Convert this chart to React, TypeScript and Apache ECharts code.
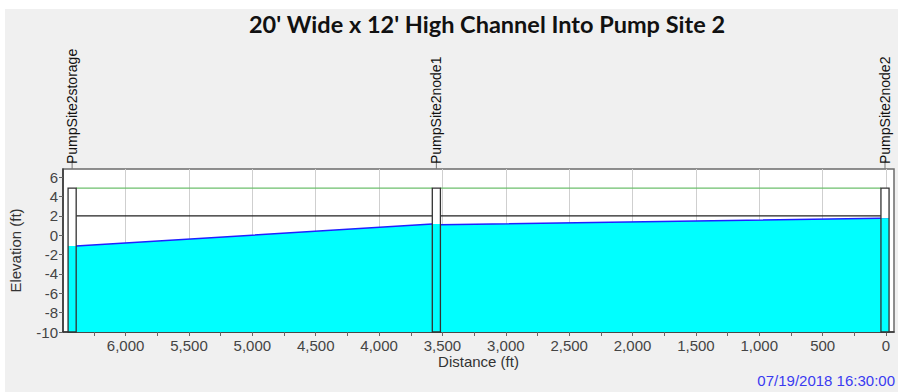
import React, { useEffect, useRef } from 'react';
import * as echarts from 'echarts';

const TITLE = "20' Wide x 12' High Channel Into Pump Site 2";
const TIMESTAMP = '07/19/2018 16:30:00';

const nodeNames = ['PumpSite2storage', 'PumpSite2node1', 'PumpSite2node2'];
const nodeDistance = [6422, 3548, 8];
const nodeInvert = [-10, -10, -10];
const nodeRim = [4.85, 4.85, 4.85];
const nodeWater = [-1.12, 1.15, 1.75];

const conduitCrown = [2, 2];
const conduitGround = [4.85, 4.85];
const conduitWaterUp = [-1.12, 1.07];
const conduitWaterDown = [1.15, 1.75];

const xTickLabels = [0, 500, 1000, 1500, 2000, 2500, 3000, 3500, 4000, 4500, 5000, 5500, 6000];
const xMinorTicks = [0, 250, 500, 750, 1000, 1250, 1500, 1750, 2000, 2250, 2500, 2750, 3000, 3250, 3500, 3750, 4000, 4250, 4500, 4750, 5000, 5250, 5500, 5750, 6000, 6250];
const yTickLabels = [-10, -8, -6, -4, -2, 0, 2, 4, 6];

const X_MIN = -63;
const X_MAX = 6494;
const Y_MIN = -10;
const Y_MAX = 6.83;
const NODE_HALF = 32;

const FONT = '"Liberation Sans", Arial, sans-serif';

export default function App() {
  const ref = useRef<HTMLDivElement>(null);
  useEffect(() => {
    if (!ref.current) return;
    const chart = echarts.init(ref.current, undefined, { renderer: 'svg' });

    const waterData: number[][] = [];
    for (let i = 0; i < nodeDistance.length; i++) {
      waterData.push([nodeDistance[i] + NODE_HALF, nodeWater[i]]);
      waterData.push([nodeDistance[i] - NODE_HALF, nodeWater[i]]);
      if (i < conduitCrown.length) {
        waterData.push([nodeDistance[i] - NODE_HALF, conduitWaterUp[i]]);
        waterData.push([nodeDistance[i + 1] + NODE_HALF, conduitWaterDown[i]]);
      }
    }

    const conduitData = conduitCrown.map((c, i) => [nodeDistance[i], nodeDistance[i + 1], c, conduitGround[i]]);
    const nodeData = nodeNames.map((_, i) => [nodeDistance[i], nodeInvert[i], nodeRim[i], nodeWater[i]]);

    const option: any = {
      animation: false,
      backgroundColor: '#f0f0f0',
      title: {
        text: TITLE,
        left: 482,
        top: 7,
        textAlign: 'center',
        textStyle: { fontFamily: 'Lato, "Open Sans", sans-serif', fontWeight: 'bold', fontSize: 23.5, color: '#111' },
      },
      graphic: [
        { type: 'rect', z: -10, shape: { x: 0, y: 0, width: 898, height: 9 }, style: { fill: '#ffffff' } },
        { type: 'rect', z: -10, shape: { x: 0, y: 0, width: 5, height: 392 }, style: { fill: '#ffffff' } },
        {
          type: 'text', right: 3, top: 373,
          style: { text: TIMESTAMP, fill: '#3a3af0', font: '15px ' + FONT },
        },
      ],
      grid: {
        left: 58, right: 4, top: 169, bottom: 60,
        show: true, backgroundColor: '#ffffff', borderColor: '#6b6b6b', borderWidth: 1.5,
      },
      xAxis: [
        {
          type: 'value', inverse: true, min: X_MIN, max: X_MAX,
          name: 'Distance (ft)', nameLocation: 'middle', nameGap: 19,
          nameTextStyle: { fontFamily: FONT, fontSize: 15, color: '#333' },
          axisLine: { show: true, onZero: false, lineStyle: { color: '#333', width: 1.5 } },
          axisTick: { show: true, customValues: xTickLabels, length: 4, lineStyle: { color: '#666' } },
          axisLabel: {
            customValues: xTickLabels, margin: 6, fontFamily: FONT, fontSize: 15, color: '#444',
            formatter: (v: number) => v.toLocaleString('en-US'),
          },
          splitLine: { show: true, lineStyle: { color: '#cfcfcf', width: 1 } },
        },
        {
          type: 'value', inverse: true, min: X_MIN, max: X_MAX, position: 'bottom',
          axisLine: { show: false, onZero: false },
          axisTick: { show: true, customValues: xMinorTicks, length: 4, lineStyle: { color: '#666' } },
          axisLabel: { show: false },
          splitLine: { show: false },
        },
      ],
      yAxis: {
        type: 'value', min: Y_MIN, max: Y_MAX,
        name: 'Elevation (ft)', nameLocation: 'middle', nameGap: 40,
        nameTextStyle: { fontFamily: FONT, fontSize: 15, color: '#333' },
        axisLine: { show: true, onZero: false, lineStyle: { color: '#333', width: 1.5 } },
        axisTick: { show: true, customValues: yTickLabels, length: 4, lineStyle: { color: '#666' } },
        axisLabel: { customValues: yTickLabels, margin: 5, fontFamily: FONT, fontSize: 15, color: '#444' },
        splitLine: { show: false },
      },
      series: [
        {
          type: 'line', data: waterData, symbol: 'none', z: 2,
          lineStyle: { color: '#2020ff', width: 1.5 },
          areaStyle: { color: '#00ffff', opacity: 1, origin: 'start' },
        },
        {
          type: 'custom', data: conduitData, z: 3, clip: false,
          renderItem: (params: any, api: any) => {
            const up = api.value(0), down = api.value(1), crown = api.value(2), ground = api.value(3);
            const a = api.coord([up - NODE_HALF, crown]);
            const b = api.coord([down + NODE_HALF, crown]);
            const g1 = api.coord([up - NODE_HALF, ground]);
            const g2 = api.coord([down + NODE_HALF, ground]);
            return {
              type: 'group',
              children: [
                { type: 'line', shape: { x1: a[0], y1: a[1], x2: b[0], y2: b[1] }, style: { stroke: '#222', lineWidth: 1.3 } },
                { type: 'line', shape: { x1: g1[0], y1: g1[1], x2: g2[0], y2: g2[1] }, style: { stroke: '#6cbf6c', lineWidth: 1.3 } },
              ],
            };
          },
        },
        {
          type: 'custom', data: nodeData, z: 4, clip: false,
          renderItem: (params: any, api: any) => {
            const d = api.value(0), inv = api.value(1), rim = api.value(2), w = api.value(3);
            const pL = api.coord([d + NODE_HALF, inv]);
            const pR = api.coord([d - NODE_HALF, rim]);
            const pW = api.coord([d, w]);
            const plotTop = api.coord([d, Y_MAX])[1];
            const x = Math.min(pL[0], pR[0]);
            const wd = Math.abs(pR[0] - pL[0]);
            const top = pR[1], bot = pL[1], wy = pW[1];
            return {
              type: 'group',
              children: [
                { type: 'rect', shape: { x, y: top, width: wd, height: wy - top }, style: { fill: '#ffffff' } },
                { type: 'rect', shape: { x, y: wy, width: wd, height: bot - wy }, style: { fill: '#00ffff' } },
                { type: 'rect', shape: { x, y: top, width: wd, height: bot - top }, style: { fill: 'none', stroke: '#333', lineWidth: 1.3 } },
                { type: 'line', shape: { x1: pW[0], y1: plotTop - 9, x2: pW[0], y2: plotTop }, style: { stroke: '#777', lineWidth: 1 } },
                {
                  type: 'text', x: pW[0], y: plotTop - 5, rotation: Math.PI / 2,
                  style: { text: nodeNames[params.dataIndex], align: 'left', verticalAlign: 'middle', fill: '#111', font: '14px ' + FONT },
                },
              ],
            };
          },
        },
      ],
    };
    chart.setOption(option);
    return () => chart.dispose();
  }, []);
  return <div ref={ref} style={{ position: 'fixed', left: 0, top: 0, width: 898, height: 392 }} />;
}
